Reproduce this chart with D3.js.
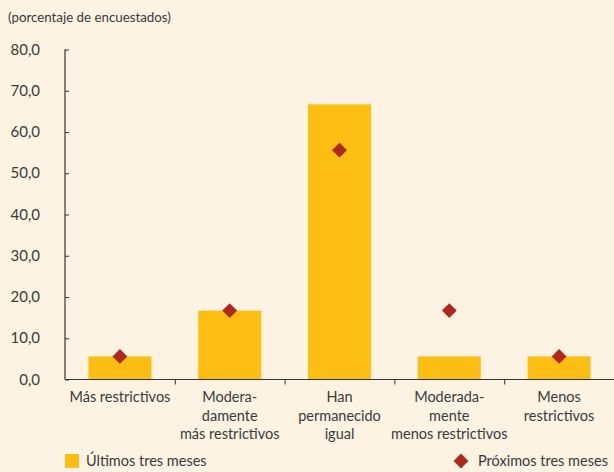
<!DOCTYPE html>
<html><head><meta charset="utf-8">
<script src="https://cdn.jsdelivr.net/npm/d3@7"></script>
<style>
html,body{margin:0;padding:0;background:#FCF3E3;}
svg{display:block;}
text{font-family:"Lato","Open Sans",sans-serif;fill:#3a3a3a;}
</style></head>
<body>
<svg id="c" width="614" height="472"></svg>
<script>
const categories = [
  ["Más restrictivos"],
  ["Modera-","damente","más restrictivos"],
  ["Han","permanecido","igual"],
  ["Moderada-","mente","menos restrictivos"],
  ["Menos","restrictivos"]
];
const ultimos = [5.6, 16.7, 66.7, 5.6, 5.6];
const proximos = [5.6, 16.7, 55.6, 16.7, 5.6];
const yTicks = [0, 10, 20, 30, 40, 50, 60, 70, 80];
const seriesNames = ["Últimos tres meses", "Próximos tres meses"];
const title = "(porcentaje de encuestados)";

const svg = d3.select("#c");
const W = 614, H = 472;
svg.append("rect").attr("width", W).attr("height", H).attr("fill", "#FCF3E3");

const x = d3.scaleBand().domain(d3.range(categories.length)).range([65, 614]).paddingInner(0.426).paddingOuter(0.213);
const y = d3.scaleLinear().domain([0, 80]).range([379.5, 49.5]);

svg.append("text").attr("x", 8).attr("y", 21.5).attr("font-size", 13.3).text(title);

// bars
svg.append("g").selectAll("rect").data(ultimos).join("rect")
  .attr("x", (d, i) => x(i)).attr("width", x.bandwidth())
  .attr("y", d => y(d)).attr("height", d => y(0) - y(d))
  .attr("fill", "#FDBE14");

// diamonds
const sym = d3.symbol().type(d3.symbolSquare).size(110);
svg.append("g").selectAll("path").data(proximos).join("path")
  .attr("d", sym)
  .attr("transform", (d, i) => `translate(${x(i) + x.bandwidth() / 2},${y(d)}) rotate(45)`)
  .attr("fill", "#B0281C");

// y axis
const yAxis = d3.axisRight(y).tickValues(yTicks).tickSize(4).tickFormat(() => "");
const gy = svg.append("g").attr("transform", "translate(65,0)").call(yAxis);
gy.select(".domain").remove();
gy.selectAll(".tick line").attr("stroke", "#333");
gy.append("line").attr("x1", 0).attr("x2", 0).attr("y1", y(80)).attr("y2", y(0)).attr("stroke", "#333").attr("stroke-width", 1.2);
svg.append("g").selectAll("text").data(yTicks).join("text")
  .attr("x", 40).attr("y", d => y(d) + 5).attr("text-anchor", "end").attr("font-size", 15)
  .text(d => d3.format(".1f")(d).replace(".", ","));

// x axis
const xb = d3.scaleLinear().domain([0, categories.length]).range([65, 614]);
const xAxis = d3.axisBottom(xb).tickValues(d3.range(1, categories.length)).tickSize(5).tickFormat(() => "");
const gx = svg.append("g").attr("transform", `translate(0,${y(0)})`).call(xAxis);
gx.select(".domain").remove();
gx.selectAll(".tick line").attr("stroke", "#333");
gx.append("line").attr("x1", 65).attr("x2", 614).attr("stroke", "#333").attr("stroke-width", 1.2);

const lab = svg.append("g").selectAll("text").data(categories).join("text")
  .attr("text-anchor", "middle").attr("font-size", 14.5)
  .attr("transform", (d, i) => `translate(${x(i) + x.bandwidth() / 2},402)`);
lab.selectAll("tspan").data(d => d).join("tspan")
  .attr("x", 0).attr("dy", (d, i) => i === 0 ? 0 : 18.5).text(d => d);

// legend
svg.append("rect").attr("x", 65).attr("y", 454).attr("width", 14).attr("height", 14).attr("fill", "#FDBE14");
svg.append("text").attr("x", 86).attr("y", 466).attr("font-size", 14.5).text(seriesNames[0]);
svg.append("path").attr("d", sym).attr("transform", "translate(461,461) rotate(45)").attr("fill", "#B0281C");
svg.append("text").attr("x", 478).attr("y", 466).attr("font-size", 14.5).text(seriesNames[1]);
</script>
</body></html>
